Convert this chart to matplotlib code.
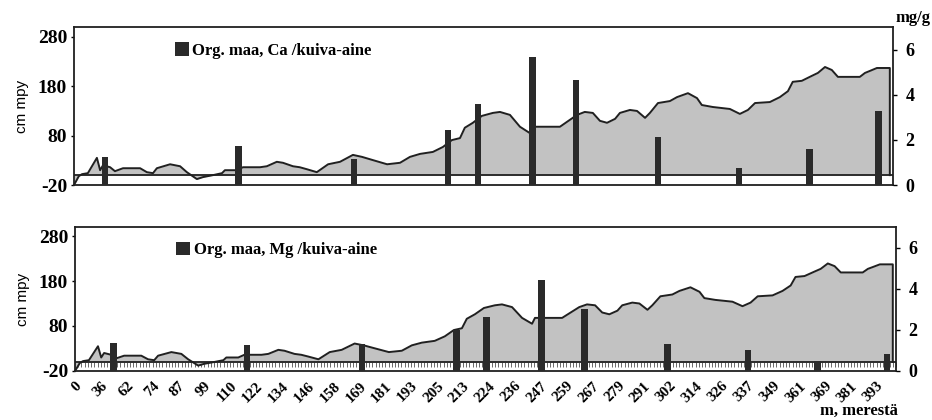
import matplotlib.pyplot as plt
import numpy as np

# Distance labels along the shore profile (every 8th sample point)
dist_labels = ['0', '36', '62', '74', '87', '99', '110', '122', '134', '146',
               '158', '169', '181', '193', '205', '213', '224', '236', '247',
               '259', '267', '279', '291', '302', '314', '326', '337', '349',
               '361', '369', '381', '393']
n_points = 254

# Ground surface profile, cm above sea level, by sample index
prof_idx = [0, 1.5, 2.5, 4.3, 7.1, 8.1, 9.0, 11.2, 12.7, 15.2, 20.5, 22.6,
            24.5, 25.7, 29.8, 32.9, 35.0, 38.1, 40.0, 43.1, 45.9, 46.8, 50.5,
            52.4, 57.7, 59.8, 62.9, 64.8, 67.9, 70.0, 72.2, 75.3, 78.8, 82.5,
            86.5, 89.3, 92.4, 97.1, 101.1, 104.2, 107.3, 111.3, 114.4, 117.2,
            119.7, 121.2, 123.7, 126.5, 129.9, 132.1, 135.2, 138.3, 141.4,
            142.3, 150.7, 152.9, 156.0, 158.4, 160.9, 163.1, 165.3, 167.8,
            169.3, 172.4, 174.6, 177.1, 178.6, 181.1, 184.8, 187.0, 190.4,
            193.2, 194.7, 198.1, 203.4, 206.5, 209.0, 211.2, 215.8, 218.9,
            221.4, 222.9, 225.7, 228.8, 230.7, 232.9, 235.0, 236.9, 243.7,
            245.3, 246.8, 249.0, 253.0, 253.0]
prof_cm = [-20, -2, 2, 4, 35, 10, 20, 16, 8, 14, 14, 6, 4, 14, 22, 18, 6, -8,
           -4, 0, 4, 10, 10, 16, 16, 18, 27, 25, 18, 16, 12, 6, 22, 27, 41, 37,
           31, 22, 25, 37, 43, 47, 57, 71, 75, 96, 106, 120, 126, 128, 122, 98,
           85, 98, 98, 108, 122, 128, 126, 110, 106, 114, 126, 132, 130, 116,
           126, 146, 150, 158, 166, 156, 142, 138, 134, 124, 132, 146, 148,
           158, 170, 189, 191, 201, 207, 219, 213, 199, 199, 207, 211, 217,
           217, 0]

# Calcium in organic soil, mg/g dry matter
ca_idx = [9.6, 50.9, 86.8, 116.0, 125.3, 142.3, 155.7, 181.1, 206.2, 228.2, 249.4]
ca_val = [1.25, 1.74, 1.16, 2.45, 3.57, 5.67, 4.64, 2.14, 0.76, 1.61, 3.26]

# Magnesium in organic soil, mg/g dry matter
mg_idx = [11.8, 53.2, 88.8, 117.9, 127.2, 144.2, 157.5, 183.2, 208.2, 229.6, 251.2]
mg_val = [1.37, 1.27, 1.32, 2.00, 2.63, 4.44, 3.02, 1.32, 1.02, 0.49, 0.83]

serif = 'Liberation Serif'
sans = 'Liberation Sans'

fig = plt.figure(figsize=(9.32, 4.2), dpi=100)
ax_top = fig.add_axes([0.0794, 0.5595, 0.8788, 0.3762])
ax_bot = fig.add_axes([0.0805, 0.1167, 0.8809, 0.3428])


def draw_panel(ax, bar_idx, bar_val, label, baseline_ticks):
    ax.fill_between(prof_idx, 0, prof_cm, color='#c2c2c2', lw=0)
    ax.plot(prof_idx, prof_cm, color='#202020', lw=1.4)
    ax.axhline(0, color='#202020', lw=1.3, zorder=3)
    ax.set_xlim(0, n_points)
    ax.set_ylim(-20, 300)
    ax.set_yticks([-20, 80, 180, 280])
    ax.set_yticklabels(['-20', '80', '180', '280'], fontfamily=serif,
                       fontweight='bold', fontsize=14)
    ax.tick_params(axis='y', length=2, width=1, pad=3)
    ax.set_ylabel('cm mpy', fontfamily=sans, fontsize=11, labelpad=6)
    for sp in ax.spines.values():
        sp.set_linewidth(1.3)
        sp.set_color('#202020')

    # category tick marks hanging from the 0 cm line
    if baseline_ticks:
        base = ax.secondary_xaxis(0, transform=ax.transData)
        base.spines['bottom'].set_visible(False)
        base.set_xticks(np.arange(0, n_points + 1, 1))
        base.tick_params(axis='x', length=3.5, width=0.6,
                         labelbottom=False, color='#505050')

    ax2 = ax.twinx()
    ax2.bar(bar_idx, bar_val, width=2.1, color='#2a2a2a', label=label,
            zorder=4)
    ax2.set_ylim(0, 7)
    ax2.set_yticks([0, 2, 4, 6])
    ax2.set_yticklabels(['0', '2', '4', '6'], fontfamily=serif,
                        fontweight='bold', fontsize=13)
    ax2.tick_params(axis='y', length=3, width=1, pad=6)
    for sp in ax2.spines.values():
        sp.set_visible(False)
    ax2.legend(loc='upper left', bbox_to_anchor=(0.115, 0.945),
               frameon=False, handlelength=0.85, handleheight=0.85,
               handletextpad=0.2, borderaxespad=0,
               prop={'family': serif, 'weight': 'bold', 'size': 12})
    return ax2


draw_panel(ax_top, ca_idx, ca_val, 'Org. maa, Ca /kuiva-aine', False)
draw_panel(ax_bot, mg_idx, mg_val, 'Org. maa, Mg /kuiva-aine', True)

ax_top.set_xticks([])
ax_bot.set_xticks(np.arange(0, 8 * len(dist_labels), 8))
ax_bot.set_xticklabels(dist_labels, rotation=45, ha='right',
                       rotation_mode='anchor', fontfamily=serif,
                       fontweight='bold', fontsize=11)
ax_bot.tick_params(axis='x', length=0, pad=6)

fig.text(0.98, 0.958, 'mg/g', ha='center', va='center', fontfamily=serif,
         fontweight='bold', fontsize=12)
fig.text(0.963, 0.022, 'm, merestä', ha='right', va='center',
         fontfamily=serif, fontweight='bold', fontsize=12)

fig.savefig('out.png', dpi=100)
